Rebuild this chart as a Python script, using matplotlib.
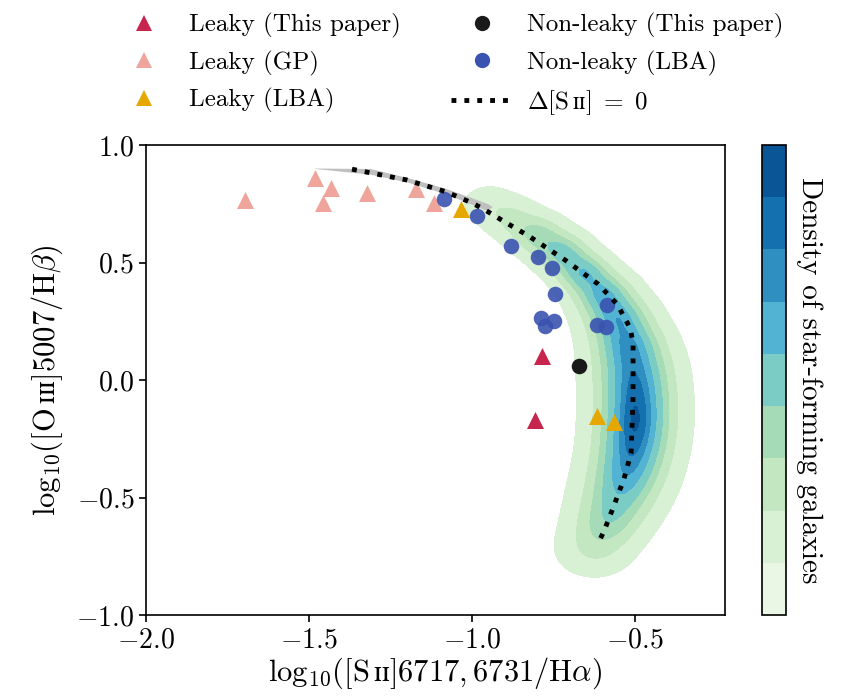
import numpy as np
import matplotlib
matplotlib.use("Agg")
import matplotlib.pyplot as plt
from matplotlib.colors import ListedColormap, BoundaryNorm
from matplotlib.cm import ScalarMappable
from matplotlib.lines import Line2D

plt.rcParams.update({
    "font.family": "cmr10",
    "mathtext.fontset": "cm",
    "axes.formatter.use_mathtext": True,
    "axes.unicode_minus": True,
})

# ---------------- data ----------------
leaky_paper_x = [-0.785, -0.807]
leaky_paper_y = [0.102, -0.170]

nonleaky_paper_x = [-0.672]
nonleaky_paper_y = [0.060]

leaky_gp_x = [-1.696, -1.482, -1.433, -1.457, -1.322, -1.172, -1.117]
leaky_gp_y = [0.766, 0.860, 0.817, 0.753, 0.796, 0.813, 0.753]

leaky_lba_x = [-1.034, -0.617, -0.564]
leaky_lba_y = [0.728, -0.153, -0.179]

nonleaky_lba_x = [-1.086, -0.985, -0.880, -0.798, -0.755, -0.745,
                  -0.788, -0.776, -0.748, -0.586, -0.617, -0.589]
nonleaky_lba_y = [0.770, 0.698, 0.570, 0.523, 0.477, 0.366,
                  0.264, 0.230, 0.251, 0.319, 0.234, 0.226]

# Delta[SII] = 0 curve
dsii_x = [-1.368, -1.200, -1.080, -1.003, -0.965, -0.930, -0.822, -0.715,
          -0.613, -0.555, -0.515, -0.506, -0.506, -0.506, -0.509, -0.512,
          -0.534, -0.564, -0.595, -0.613]
dsii_y = [0.897, 0.851, 0.801, 0.755, 0.728, 0.698, 0.609, 0.511,
          0.408, 0.323, 0.221, 0.157, 0.043, -0.072, -0.191, -0.311,
          -0.421, -0.532, -0.643, -0.694]

# grey band along the upper part of the curve
band_x = [-1.482, -1.313, -1.200, -1.080, -0.955, -0.940]
band_hi = [0.902, 0.900, 0.862, 0.815, 0.752, 0.740]
band_lo = [0.900, 0.876, 0.843, 0.792, 0.722, 0.735]

# star-forming galaxy locus (representative ridge samples, weights, kernel widths)
sf_ridge_x = [-0.95, -0.88, -0.80, -0.725, -0.66, -0.60, -0.555, -0.522,
              -0.505, -0.498, -0.498, -0.505, -0.522, -0.55, -0.585, -0.625]
sf_ridge_y = [0.75, 0.69, 0.62, 0.545, 0.46, 0.37, 0.27, 0.16,
              0.05, -0.06, -0.17, -0.28, -0.39, -0.50, -0.61, -0.72]
sf_ridge_w = [0.14, 0.28, 0.55, 0.74, 0.82, 0.85, 0.89, 0.88,
              0.87, 0.90, 0.97, 0.90, 0.80, 0.63, 0.50, 0.28]
sf_ridge_s = [0.05, 0.05, 0.05, 0.05, 0.05, 0.055, 0.06, 0.065,
              0.07, 0.07, 0.07, 0.07, 0.07, 0.07, 0.065, 0.065]
density_levels = [0.035, 0.178, 0.338, 0.49, 0.66, 0.80, 0.90, 0.985, 1.0]

# ---------------- style ----------------
band_colors = ["#ebf7e5", "#d8f0d3", "#c3e7c1", "#a5dbb7", "#7accc4",
               "#52b4d2", "#2f8fc0", "#1570b0", "#0a5596"]
c_crimson = "#c6264e"
c_pink = "#efa59c"
c_gold = "#e6a800"
c_black = "#1a1a1a"
c_blue = "#3a53b0"

fig = plt.figure(figsize=(8.43, 6.96), dpi=100)
ax = fig.add_axes([146 / 843, 1 - 615 / 696, (725 - 146) / 843, (615 - 145) / 696])
cax = fig.add_axes([762 / 843, 1 - 615 / 696, 24 / 843, (615 - 145) / 696])

# density field
gx = np.linspace(-1.3, -0.1, 500)
gy = np.linspace(-1.1, 1.0, 700)
X, Y = np.meshgrid(gx, gy)
Z = np.zeros_like(X)
for x0, y0, w, s in zip(sf_ridge_x, sf_ridge_y, sf_ridge_w, sf_ridge_s):
    Z += w * np.exp(-((X - x0) ** 2 + (Y - y0) ** 2) / (2 * s ** 2))
Z /= Z.max()
ax.contourf(X, Y, Z, levels=density_levels, colors=band_colors[1:], zorder=1)

# grey band
ax.fill_between(band_x, band_lo, band_hi, color="#bfbfbf", lw=0, zorder=2)

# scatter points
kw_tri = dict(marker="^", s=150, linewidths=0, zorder=4)
kw_cir = dict(marker="o", s=125, linewidths=0, zorder=4)
ax.scatter(leaky_gp_x, leaky_gp_y, color=c_pink, **kw_tri)
ax.scatter(leaky_lba_x, leaky_lba_y, color=c_gold, **kw_tri)
ax.scatter(leaky_paper_x, leaky_paper_y, color=c_crimson, **kw_tri)
ax.scatter(nonleaky_lba_x, nonleaky_lba_y, color=c_blue, alpha=0.9, **kw_cir)
ax.scatter(nonleaky_paper_x, nonleaky_paper_y, color=c_black, **kw_cir)

# Delta SII = 0 line
ax.plot(dsii_x, dsii_y, color="black", ls=":", lw=3.5, zorder=5)

ax.set_xlim(-2.0, -0.224)
ax.set_ylim(-1.0, 1.0)
ax.set_xticks([-2.0, -1.5, -1.0, -0.5])
ax.set_yticks([-1.0, -0.5, 0.0, 0.5, 1.0])
ax.tick_params(labelsize=20, length=5, width=1.2)
for sp in ax.spines.values():
    sp.set_linewidth(1.2)
ax.set_xlabel(r"$\mathrm{log}_{10}([\mathrm{S\,ɪɪ}]6717,6731/\mathrm{H}\alpha)$", fontsize=22, labelpad=2)
ax.set_ylabel(r"$\mathrm{log}_{10}([\mathrm{O\,ɪɪɪ}]5007/\mathrm{H}\beta)$", fontsize=22, labelpad=8)

# colorbar
cmap = ListedColormap(band_colors)
norm = BoundaryNorm(np.arange(len(band_colors) + 1), cmap.N)
cb = fig.colorbar(ScalarMappable(norm=norm, cmap=cmap), cax=cax)
cb.set_ticks([])
cb.minorticks_off()
cax.tick_params(which="both", length=0)
cb.outline.set_linewidth(1.2)
cb.set_label("Density of star-forming galaxies", rotation=270, fontsize=21, labelpad=26)

# legend
handles = [
    Line2D([], [], ls="none", marker="^", ms=12, color=c_crimson, mew=0),
    Line2D([], [], ls="none", marker="^", ms=12, color=c_pink, mew=0),
    Line2D([], [], ls="none", marker="^", ms=12, color=c_gold, mew=0),
    Line2D([], [], ls="none", marker="o", ms=11, color=c_black, mew=0),
    Line2D([], [], ls="none", marker="o", ms=11, color=c_blue, mew=0),
    Line2D([], [], ls=":", lw=3.5, color="black"),
]
labels = ["Leaky (This paper)", "Leaky (GP)", "Leaky (LBA)",
          "Non-leaky (This paper)", "Non-leaky (LBA)", r"$\Delta[\mathrm{S\,ɪɪ}]\ =\ 0$"]
fig.legend(handles, labels, ncol=2, frameon=False, loc="upper left",
           bbox_to_anchor=(113 / 843, 1 - 13 / 696), borderaxespad=0, borderpad=0,
           fontsize=18, handlelength=2.5, handletextpad=0.55, columnspacing=2.0,
           labelspacing=0.5)

fig.savefig("out.png", dpi=100)
